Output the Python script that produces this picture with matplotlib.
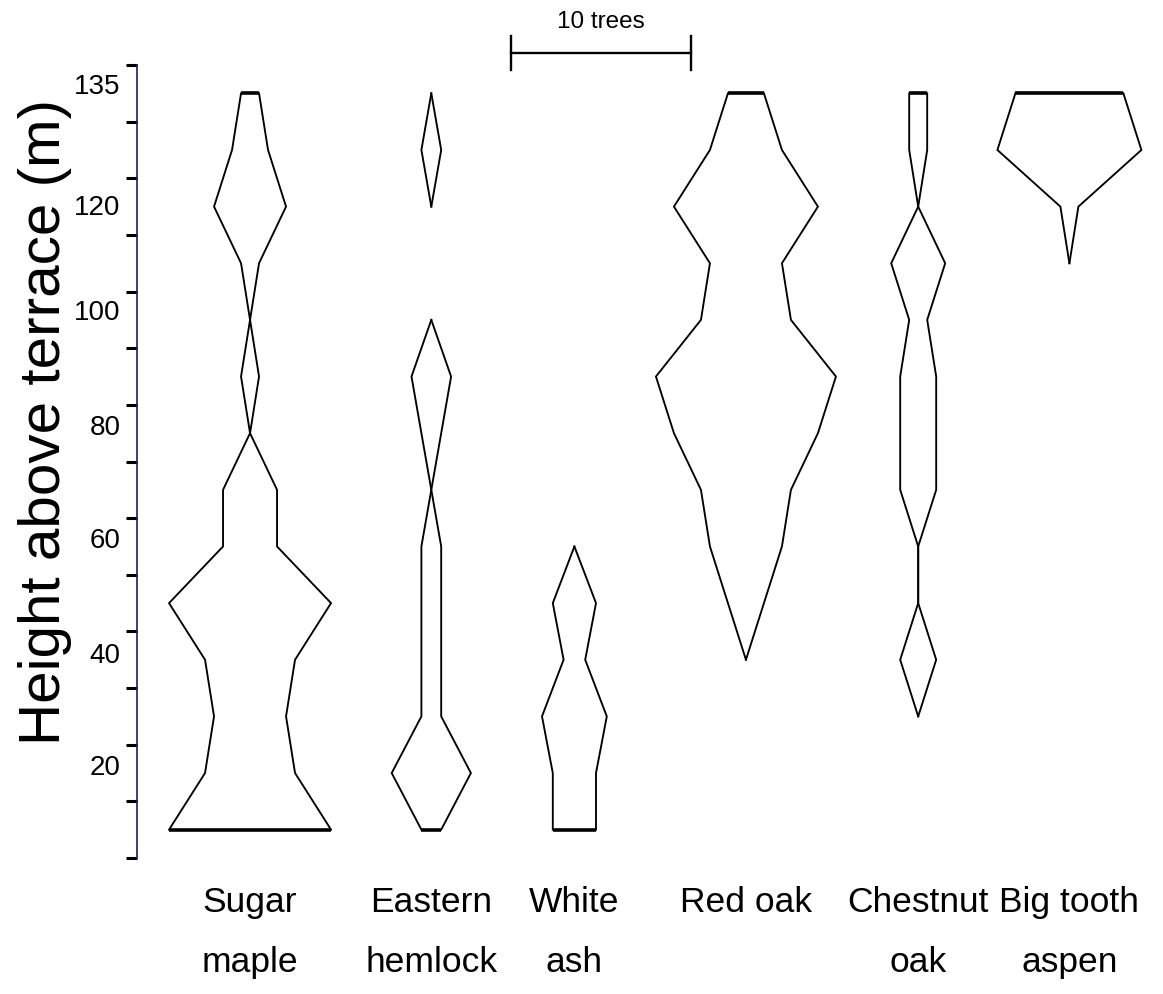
import numpy as np
import matplotlib
matplotlib.use("Agg")
import matplotlib.pyplot as plt
from matplotlib import font_manager as fm

# Height classes (m above terrace), centre of each 10 m band
heights = [5, 15, 25, 35, 45, 55, 65, 75, 85, 95, 105, 115, 125, 135]
nan = np.nan

# Number of trees per height class (kite widths); NaN = class not present
sugar_maple = [9, 5, 4, 5, 9, 3, 3, 0, 1, 0, 1, 4, 2, 1]
eastern_hemlock = [1.1, 4.4, 1.1, 1.1, 1.1, 1.1, 0, 1.1, 2.2, 0, nan, 0, 1.1, 0]
white_ash = [2.4, 2.4, 3.6, 1.2, 2.4, 0, nan, nan, nan, nan, nan, nan, nan, nan]
red_oak = [nan, nan, nan, 0, 2, 4, 5, 8, 10, 5, 4, 8, 4, 2]
chestnut_oak = [nan, nan, 0, 2, 0, 0, 2, 2, 2, 1, 3, 0, 1, 1]
big_tooth_aspen = [nan, nan, nan, nan, nan, nan, nan, nan, nan, nan, 0, 1, 8, 6]

species = ["Sugar\nmaple", "Eastern\nhemlock", "White\nash",
           "Red oak", "Chestnut\noak", "Big tooth\naspen"]
series = [sugar_maple, eastern_hemlock, white_ash, red_oak,
          chestnut_oak, big_tooth_aspen]

# Kite centre lines along the x axis (x unit = 1 tree)
centres = [6.28, 16.35, 24.3, 33.83, 43.4, 51.8]

# y axis: minor marks every 10 m, labels as printed on the axis
tick_marks = np.arange(0, 141, 10)
label_pos = [16.4, 36.2, 56.5, 76.5, 96.8, 115.3, 136.6]
label_txt = ["20", "40", "60", "80", "100", "120", "135"]

scale_trees = 10
scale_start = 20.78

W, H = 1163, 994
fig = plt.figure(figsize=(W / 100, H / 100), dpi=100)
fig.patch.set_facecolor("white")

ax_l, ax_r, ax_b, ax_t = 137, 1160, 858, 65
ax = fig.add_axes([ax_l / W, (H - ax_b) / H, (ax_r - ax_l) / W, (ax_b - ax_t) / H])
ax.set_xlim(0, (ax_r - ax_l) / 18.0)
ax.set_ylim(0, 140)

# prefer a narrow Arial-like face for the horizontal labels when present
installed = {f.name for f in fm.fontManager.ttflist}
regular = ["Liberation Sans", "DejaVu Sans"]
if "Liberation Sans Narrow" in installed:
    cat_family, cat_size, bar_size = ["Liberation Sans Narrow"] + regular, 29, 19.5
else:
    cat_family, cat_size, bar_size = regular, 25.5, 17.5

lw = 1.35
for c, vals in zip(centres, series):
    v = np.asarray(vals, dtype=float)
    h = np.asarray(heights, dtype=float)
    ok = ~np.isnan(v)
    # split into contiguous runs of present classes
    idx = np.where(ok)[0]
    runs = np.split(idx, np.where(np.diff(idx) > 1)[0] + 1)
    for r in runs:
        if len(r) == 0:
            continue
        hh, ww = h[r], v[r]
        left = c - ww / 2
        right = c + ww / 2
        ax.plot(left, hh, color="black", lw=lw, solid_joinstyle="miter")
        ax.plot(right, hh, color="black", lw=lw, solid_joinstyle="miter")
        for k in (0, -1):
            if ww[k] > 0:
                ax.plot([left[k], right[k]], [hh[k], hh[k]], color="black",
                        lw=2.6, solid_capstyle="butt")

# axis styling
for s in ("top", "right", "bottom"):
    ax.spines[s].set_visible(False)
ax.spines["left"].set_color("#1e1e5a")
ax.spines["left"].set_linewidth(1.2)
ax.set_xticks([])
ax.set_yticks(tick_marks, minor=True)
ax.tick_params(axis="y", which="minor", length=8, width=2.2, color="black",
               direction="out")
ax.set_yticks(label_pos)
ax.set_yticklabels(label_txt, family=regular, fontsize=20)
ax.tick_params(axis="y", which="major", length=0, pad=12)

# category labels, one text per line on fixed baselines
baselines = [-9.5, -20.1]
for c, name in zip(centres, species):
    for line, yb in zip(name.split("\n"), baselines):
        ax.text(c, yb, line, ha="center", va="baseline", family=cat_family,
                fontsize=cat_size, clip_on=False)

# scale bar
bar_y = 142.1
ax.plot([scale_start, scale_start + scale_trees], [bar_y, bar_y],
        color="black", lw=1.7, clip_on=False)
for xe in (scale_start, scale_start + scale_trees):
    ax.plot([xe, xe], [139.1, 145.1], color="black", lw=1.7, clip_on=False)
ax.text(scale_start + scale_trees / 2, 147.6, f"{scale_trees} trees",
        ha="center", va="center", family=cat_family, fontsize=bar_size,
        clip_on=False)

fig.text(45 / W, (H - 422) / H, "Height above terrace (m)", rotation=90,
         ha="center", va="center", family=regular, fontsize=42)

fig.savefig("out.png", dpi=100, facecolor="white")
